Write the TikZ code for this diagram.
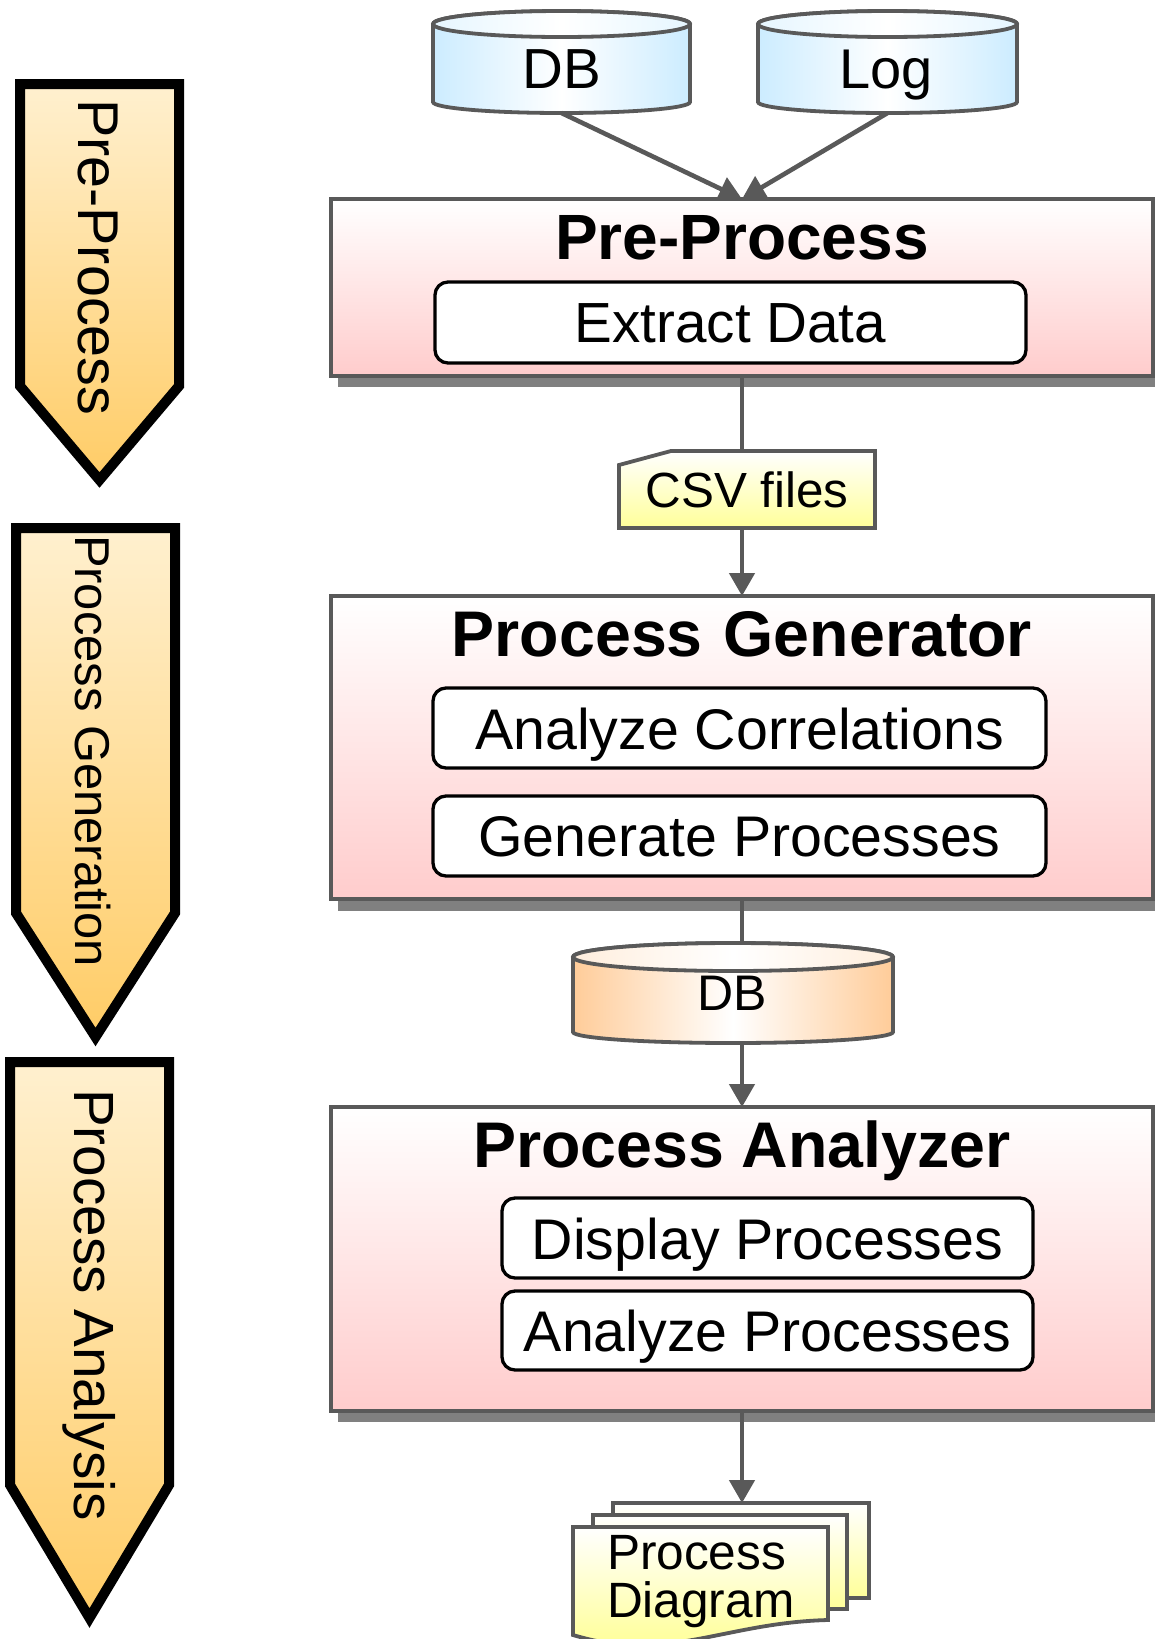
\documentclass[tikz,border=0pt]{standalone}
\usepackage{fontspec}
\setmainfont{Liberation Sans}
\usetikzlibrary{arrows.meta,calc}
\definecolor{linegray}{HTML}{595959}
\definecolor{shadowgray}{HTML}{808080}
\definecolor{pinkend}{HTML}{FFCCCC}
\definecolor{yellowend}{HTML}{FFFF99}
\definecolor{bluecyl}{HTML}{CCECFF}
\definecolor{bluetop}{HTML}{E6F6FF}
\definecolor{orangecyl}{HTML}{FFCC99}
\definecolor{orangetop}{HTML}{FFEEDD}
\definecolor{goldtop}{HTML}{FFF0CF}
\definecolor{goldend}{HTML}{FFCC66}
\newcommand{\fsz}[1]{\fontsize{#1}{#1}\selectfont}
% side arrow: left, right, top, shoulder, tip
\newcommand{\sidearrow}[5]{%
  \pgfmathsetmacro{\midx}{(#1+#2)/2}
  \path[sidestyle] (#1,#3) -- (#2,#3) -- (#2,#4) -- (\midx,#5) -- (#1,#4) -- cycle;}
% cylinder: left, right, top-ellipse y, top ry, bottom-ellipse y, bottom ry, side colour, top colour
\newcommand{\cylshape}[8]{%
  \pgfmathsetmacro{\midx}{(#1+#2)/2}
  \pgfmathsetmacro{\radx}{(#2-#1)/2}
  \path[draw=linegray,line width=3.8pt,left color=#7,right color=#7,middle color=white]
    (#1,#3) -- (#1,#5) arc[start angle=180,end angle=360,x radius=\radx pt,y radius=#6pt]
    -- (#2,#3) arc[start angle=0,end angle=180,x radius=\radx pt,y radius=#4pt] -- cycle;
  \path[draw=linegray,line width=3.8pt,left color=#8,right color=#8,middle color=white]
    (\midx,#3) ellipse[x radius=\radx pt,y radius=#4pt];}
\tikzset{
  every node/.style={outer sep=0pt,inner sep=0pt},
  sidestyle/.style={draw=black,line width=10pt,miter limit=10,top color=goldtop,bottom color=goldend},
  sidelabel/.style={rotate=-90,anchor=base west},
  mainbox/.style={draw=linegray,line width=3.8pt,top color=white,bottom color=pinkend,minimum width=822pt,anchor=north west},
  titletext/.style={anchor=base,font=\bfseries\fsz{64.5}},
  innerbox/.style={draw=black,line width=3.3pt,fill=white,rounded corners=13pt,anchor=north west,text height=61pt,text depth=19pt,font=\fsz{57.3}},
  anchorbox/.style={anchor=north west},
  doc/.style={draw=linegray,line width=3.8pt,top color=white,bottom color=yellowend},
  conn/.style={draw=linegray,line width=4.6pt},
  arrowconn/.style={conn,-{Triangle[length=23pt,width=25pt]}},
  cyllabel/.style={anchor=base}
}
\begin{document}
\begin{tikzpicture}[x=1pt,y=-1pt]
\useasboundingbox (0,0) rectangle (1155,1639);
\fill[white] (0,0) rectangle (1155,1639);

% side arrows
\sidearrow{20}{179}{84}{386}{480}
\node[sidelabel,font=\fsz{57.5}] (sidea) at (78,99) {Pre-Process};
\sidearrow{16}{175}{528}{913}{1037}
\node[sidelabel,font=\fsz{48.9}] (sideb) at (75,535) {Process Generation};
\sidearrow{10}{169}{1062}{1485}{1618}
\node[sidelabel,font=\fsz{56.7}] (sidec) at (74,1089) {Process Analysis};

% shadows
\fill[shadowgray] (338,210) rectangle (1160,387);
\fill[shadowgray] (338,607) rectangle (1160,911);
\fill[shadowgray] (338,1118) rectangle (1160,1422);

% main boxes
\node[mainbox,minimum height=177pt] (pp) at (331,199) {};
\node[mainbox,minimum height=303pt] (pg) at (331,596) {};
\node[mainbox,minimum height=304pt] (pa) at (331,1107) {};

\node[titletext,font=\bfseries\fsz{64}] (pptitle) at (742,259) {Pre-Process};
\node[titletext] (pgtitle) at (742,656) {Process\hspace{21pt}Generator};
\node[titletext] (patitle) at (742,1167) {Process Analyzer};

\node[innerbox,minimum width=591pt,text height=60pt,text depth=21pt,font=\fsz{56.6}] (extract) at (435,282) {Extract Data};
\node[innerbox,minimum width=613pt] (corr) at (433,688) {Analyze Correlations};
\node[innerbox,minimum width=613pt,text height=60pt,text depth=20pt] (gen) at (433,796) {Generate Processes};
\node[innerbox,minimum width=531pt] (disp) at (502,1198) {Display Processes};
\node[innerbox,minimum width=531pt,text height=60pt,text depth=19pt] (ana) at (502,1291) {Analyze Processes};

% cylinders
\cylshape{433}{690}{24}{13}{102}{11}{bluecyl}{bluetop}
\node[anchorbox,minimum width=257pt,minimum height=102pt] (dbtop) at (433,11) {};
\node[cyllabel,font=\fsz{56.5}] (dbtoplabel) at (562,88) {DB};
\cylshape{758}{1017}{24}{13}{102}{11}{bluecyl}{bluetop}
\node[anchorbox,minimum width=259pt,minimum height=102pt] (logtop) at (758,11) {};
\node[cyllabel,font=\fsz{56}] (logtoplabel) at (886,88) {Log};
\cylshape{573}{893}{957}{14}{1032}{11}{orangecyl}{orangetop}
\node[anchorbox,minimum width=320pt,minimum height=100pt] (dbmid) at (573,943) {};
\node[cyllabel,font=\fsz{50}] (dbmidlabel) at (732,1010) {DB};

% CSV files
\path[doc] (619,465) -- (671,451) -- (875,451) -- (875,528) -- (619,528) -- cycle;
\node[anchorbox,minimum width=256pt,minimum height=78pt] (csv) at (619,450) {};
\node[cyllabel,font=\fsz{49.4}] (csvlabel) at (747,507) {CSV files};

% stacked documents
\path[doc] (613,1503) rectangle (869,1598);
\node[anchorbox,minimum width=256pt,minimum height=95pt] (docs) at (613,1503) {};
\path[doc] (593,1515) rectangle (847,1609);
\path[doc] (573,1527) -- (828,1527) -- (828,1620)
  .. controls (750,1622) and (700,1645) .. (640,1645)
  .. controls (610,1645) and (590,1640) .. (573,1635) -- cycle;
\node[anchor=base west,font=\fsz{49.6}] (docone) at (607,1569) {Process};
\node[anchor=base west,font=\fsz{49.6}] (doctwo) at (607,1617) {Diagram};

% connectors
\draw[arrowconn] (dbtop.south) -- (pp.north);
\draw[arrowconn] (logtop.south) -- (pp.north);
\draw[conn] (pp.south) -- (csv.north -| pp.south);
\draw[arrowconn] (csv.south -| pg.north) -- (pg.north);
\draw[conn] (pg.south) -- (dbmid.north -| pg.south);
\draw[arrowconn] (dbmid.south -| pa.north) -- (pa.north);
\draw[arrowconn] (pa.south) -- (docs.north -| pa.south);
\end{tikzpicture}
\end{document}
